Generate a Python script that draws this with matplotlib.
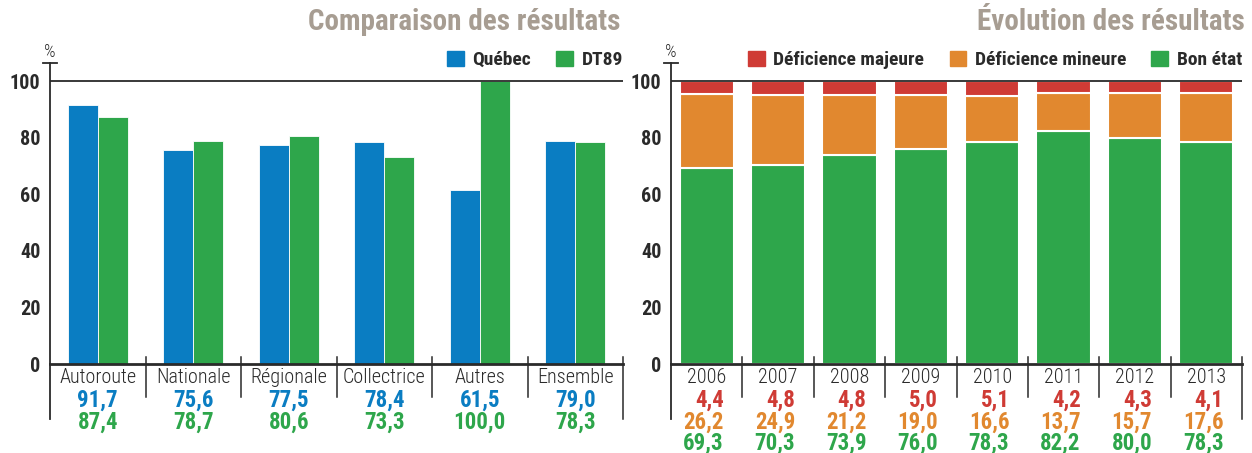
import matplotlib
matplotlib.use("Agg")
import numpy as np
from matplotlib import pyplot as plt
from matplotlib.patches import Patch
from matplotlib.transforms import blended_transform_factory

plt.rcParams['font.family'] = ['Roboto Condensed', 'DejaVu Sans']

# Data - left panel
categories = ["Autoroute", "Nationale", "Régionale", "Collectrice", "Autres", "Ensemble"]
quebec = [91.7, 75.6, 77.5, 78.4, 61.5, 79.0]
dt89 = [87.4, 78.7, 80.6, 73.3, 100.0, 78.3]

# Data - right panel
years = ["2006", "2007", "2008", "2009", "2010", "2011", "2012", "2013"]
majeure = [4.4, 4.8, 4.8, 5.0, 5.1, 4.2, 4.3, 4.1]
mineure = [26.2, 24.9, 21.2, 19.0, 16.6, 13.7, 15.7, 17.6]
bon_etat = [69.3, 70.3, 73.9, 76.0, 78.3, 82.2, 80.0, 78.3]

yticks = [0, 20, 40, 60, 80, 100]

BLUE = "#0a7dc2"
GREEN = "#2ea64b"
RED = "#cf3b35"
ORANGE = "#e1882f"
TITLE = "#a79d92"
DARK = "#2a2a2a"


def fmt(v):
    return ("%.1f" % v).replace(".", ",")


fig = plt.figure(figsize=(12.52, 4.53), dpi=100)
ax1 = fig.add_axes([50 / 1252, 89 / 453, 573 / 1252, 301 / 453])
ax2 = fig.add_axes([671 / 1252, 89 / 453, 571 / 1252, 301 / 453])


def style_axis(ax, n, inner_bottom, outer_bottom):
    ax.set_xlim(-0.5, n - 0.5)
    ax.set_ylim(0, 106.4)
    for s in ["top", "right"]:
        ax.spines[s].set_visible(False)
    ax.spines["left"].set_color(DARK)
    ax.spines["left"].set_linewidth(1.3)
    ax.spines["bottom"].set_color(DARK)
    ax.spines["bottom"].set_linewidth(2)
    ax.spines["bottom"].set_zorder(4)
    ax.axhline(100, color=DARK, lw=1.3, zorder=3)
    ax.set_xticks([])
    ax.set_yticks(yticks)
    ax.set_yticklabels([str(t) for t in yticks], fontsize=14.5, fontweight="bold", color=DARK)
    ax.tick_params(axis="y", length=0, pad=7)
    # "%" marker on top of the y axis
    ax.plot([-0.013, 0.013], [1, 1], transform=ax.transAxes, color=DARK, lw=1.3, clip_on=False)
    ax.text(0, 1.005, "%", transform=ax.transAxes, ha="center", va="bottom", fontsize=13,
            fontweight="light", color=DARK)
    trans = blended_transform_factory(ax.transData, ax.transAxes)
    for i in range(1, n):
        ax.plot([i - 0.5, i - 0.5], [0.023, inner_bottom], transform=trans,
                color=DARK, lw=1.1, clip_on=False)
    ax.plot([-0.5, -0.5], [0, outer_bottom], transform=trans, color=DARK, lw=1.3, clip_on=False)
    ax.plot([n - 0.5, n - 0.5], [0.023, outer_bottom], transform=trans, color=DARK, lw=1.1, clip_on=False)
    return trans


# Left panel: grouped bars
x1 = np.arange(len(categories))
w = 0.315
ax1.bar(x1 - w / 2, quebec, w, color=BLUE, edgecolor="white", linewidth=0.6, zorder=2)
ax1.bar(x1 + w / 2, dt89, w, color=GREEN, edgecolor="white", linewidth=0.6, zorder=2)
t1 = style_axis(ax1, len(categories), -0.11, -0.183)
for i, c in enumerate(categories):
    ax1.text(i, -0.0465, c, transform=t1, ha="center", va="center", fontsize=14.5,
             fontweight="light", color=DARK)
    ax1.text(i, -0.122, fmt(quebec[i]), transform=t1, ha="center", va="center",
             fontsize=16.5, fontweight="bold", color=BLUE)
    ax1.text(i, -0.195, fmt(dt89[i]), transform=t1, ha="center", va="center",
             fontsize=16.5, fontweight="bold", color=GREEN)

# Right panel: stacked bars
x2 = np.arange(len(years))
w2 = 0.76
bottom2 = np.array(bon_etat)
bottom3 = bottom2 + np.array(mineure)
ax2.bar(x2, bon_etat, w2, color=GREEN, edgecolor="white", linewidth=1.5, zorder=2)
ax2.bar(x2, mineure, w2, bottom=bottom2, color=ORANGE, edgecolor="white", linewidth=1.5, zorder=2)
ax2.bar(x2, majeure, w2, bottom=bottom3, color=RED, edgecolor="white", linewidth=1.5, zorder=2)
t2 = style_axis(ax2, len(years), -0.11, -0.183)
for i, y in enumerate(years):
    ax2.text(i, -0.0465, y, transform=t2, ha="center", va="center", fontsize=14.5,
             fontweight="light", color=DARK)
    ax2.text(i + 0.24, -0.12, fmt(majeure[i]), transform=t2, ha="right", va="center",
             fontsize=16.5, fontweight="bold", color=RED)
    ax2.text(i + 0.24, -0.193, fmt(mineure[i]), transform=t2, ha="right", va="center",
             fontsize=16.5, fontweight="bold", color=ORANGE)
    ax2.text(i + 0.24, -0.264, fmt(bon_etat[i]), transform=t2, ha="right", va="center",
             fontsize=16.5, fontweight="bold", color=GREEN)

# Titles
fig.text(620 / 1252, 1 - 22 / 453, "Comparaison des résultats", ha="right", va="center",
         fontsize=21, fontweight="bold", color=TITLE)
fig.text(1245 / 1252, 1 - 22 / 453, "Évolution des résultats", ha="right", va="center",
         fontsize=21, fontweight="bold", color=TITLE)

# Legends
leg_kw = dict(loc="center right", frameon=False, handlelength=0.85, handleheight=0.85,
              handletextpad=0.45, columnspacing=1.3, borderaxespad=0, borderpad=0,
              prop={"weight": "bold", "size": 14})
leg1 = ax1.legend([Patch(color=BLUE), Patch(color=GREEN)], ["Québec", "DT89"], ncol=2,
                  bbox_to_anchor=(1.0, 1 + (63 - 60) / 301), **leg_kw)
leg2 = ax2.legend([Patch(color=RED), Patch(color=ORANGE), Patch(color=GREEN)],
                  ["Déficience majeure", "Déficience mineure", "Bon état"], ncol=3,
                  bbox_to_anchor=(1.0, 1 + (63 - 60) / 301), **leg_kw)
for leg in (leg1, leg2):
    for t in leg.get_texts():
        t.set_color(DARK)

fig.savefig("out.png", dpi=100)
